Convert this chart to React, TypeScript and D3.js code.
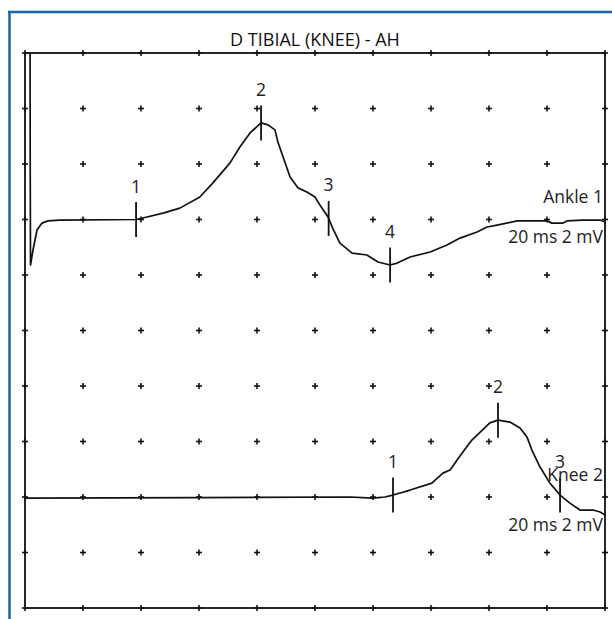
import React from "react";
import * as d3 from "d3";

// time in ms, amplitude in mV (relative to each trace baseline)
const ankleTime = [1.7, 1.8, 1.9, 2.76, 4.14, 5.86, 7.93, 12.07, 38.3, 42.1, 47.6, 53.4, 60.3, 64.8, 70.7, 74.1, 77.6, 81.4, 83.8, 86.2, 87.2, 89.0, 91.4, 94.1, 97.2, 100.0, 101.7, 104.5, 106.2, 108.6, 112.8, 117.9, 121.7, 125.9, 128.3, 132.8, 139.7, 145.5, 150.0, 155.9, 159.3, 162.8, 169.7, 180.0, 181.7, 185.5, 186.9, 192.1, 198.3, 200];
const ankleValue = [8.5, 2.0, -1.64, -1.10, -0.38, -0.13, -0.05, -0.02, 0, 0.09, 0.23, 0.41, 0.81, 1.32, 2.04, 2.61, 3.12, 3.48, 3.41, 3.23, 2.79, 2.25, 1.53, 1.14, 0.99, 0.81, 0.52, 0.09, -0.34, -0.85, -1.21, -1.28, -1.53, -1.64, -1.57, -1.35, -1.17, -0.92, -0.67, -0.45, -0.27, -0.20, -0.05, -0.05, -0.13, -0.13, -0.05, -0.02, -0.02, -0.09];

const kneeTime = [0, 60, 112.1, 120.0, 124.1, 126.9, 132.8, 140.3, 144.1, 146.6, 149.0, 151.0, 154.1, 155.9, 160.3, 163.1, 167.2, 170.7, 173.1, 174.8, 177.6, 181.0, 184.5, 187.9, 191.4, 195.9, 198.3, 200];
const kneeValue = [-0.04, -0.02, 0, -0.04, 0, 0.07, 0.25, 0.50, 0.86, 0.97, 1.33, 1.62, 2.05, 2.23, 2.67, 2.77, 2.70, 2.49, 2.16, 1.69, 1.08, 0.50, 0.07, -0.22, -0.47, -0.47, -0.54, -0.65];

const ankleMarkerLabels = ["1", "2", "3", "4"];
const ankleMarkerTimes = [38.3, 81.4, 104.7, 125.9];
const kneeMarkerLabels = ["1", "2", "3"];
const kneeMarkerTimes = [126.9, 163.1, 184.5];

const title = "D TIBIAL (KNEE) - AH";
const traceNames = ["Ankle 1", "Knee 2"];
const scaleTexts = ["20 ms 2 mV", "20 ms 2 mV"];

const timeSpan = [0, 200];
const msPerDiv = 20;
const mVPerDiv = 2;
const divisions = 10;
const baselineRows = [3, 8];

const W = 612;
const H = 619;
const left = 25;
const right = 605;
const top = 53;
const bottom = 608;
const FONT = "'Open Sans', 'Noto Sans', sans-serif";
const nameOffsets = [-17, -16];
const scaleOffsets = [23.5, 33.5];

function interp(times: number[], vals: number[], t: number) {
  const i = d3.bisectLeft(times, t);
  if (i <= 0) return vals[0];
  if (i >= times.length) return vals[vals.length - 1];
  const t0 = times[i - 1], t1 = times[i];
  const f = (t - t0) / (t1 - t0);
  return vals[i - 1] + f * (vals[i] - vals[i - 1]);
}

export default function App() {
  const x = d3.scaleLinear().domain(timeSpan).range([left, right]);
  const rowH = (bottom - top) / divisions;
  const makeY = (row: number) => {
    const topMv = row * mVPerDiv;
    return d3.scaleLinear().domain([topMv, topMv - divisions * mVPerDiv]).range([top, bottom]);
  };
  const yA = makeY(baselineRows[0]);
  const yK = makeY(baselineRows[1]);

  const gridX = d3.range(0, divisions + 1).map((i) => x(timeSpan[0] + i * msPerDiv));
  const gridY = d3.range(0, divisions + 1).map((j) => top + j * rowH);

  const line = (y: d3.ScaleLinear<number, number>) =>
    d3.line<[number, number]>().x((d) => x(d[0])).y((d) => y(d[1]));

  const ankleData = ankleTime.map((t, i) => [t, ankleValue[i]] as [number, number]);
  const kneeData = kneeTime.map((t, i) => [t, kneeValue[i]] as [number, number]);

  const traces = [
    { data: ankleData, y: yA, times: ankleTime, vals: ankleValue, mt: ankleMarkerTimes, ml: ankleMarkerLabels },
    { data: kneeData, y: yK, times: kneeTime, vals: kneeValue, mt: kneeMarkerTimes, ml: kneeMarkerLabels },
  ];

  const arm = 3;

  return (
    <svg width={W} height={H} style={{ position: "absolute", left: 0, top: 0, background: "#fff" }}>
      <defs>
        <clipPath id="plotclip">
          <rect x={left} y={top} width={right - left} height={bottom - top} />
        </clipPath>
      </defs>
      <rect x={0} y={0} width={W} height={H} fill="#fff" />
      {/* blue frame */}
      <line x1={9.5} y1={11} x2={9.5} y2={H} stroke="#1b64a3" strokeWidth={2.5} />
      <line x1={8} y1={12} x2={W} y2={12} stroke="#1b64a3" strokeWidth={2.5} />

      <text x={315} y={46} textAnchor="middle" fontFamily={FONT} fontSize={18} fill="#111">
        {title}
      </text>

      {/* grid crosses */}
      <g stroke="#111" strokeWidth={1.6}>
        {gridX.map((gx, i) =>
          gridY.map((gy, j) => (
            <g key={`c${i}-${j}`}>
              <line x1={gx - arm} x2={gx + arm} y1={gy} y2={gy} />
              <line x1={gx} x2={gx} y1={gy - arm} y2={gy + arm} />
            </g>
          ))
        )}
      </g>
      <rect x={left} y={top} width={right - left} height={bottom - top} fill="none" stroke="#111" strokeWidth={1.8} />

      {/* traces */}
      <g clipPath="url(#plotclip)">
        {traces.map((tr, k) => (
          <path key={`t${k}`} d={line(tr.y)(tr.data) || ""} fill="none" stroke="#111" strokeWidth={1.7} strokeLinejoin="round" />
        ))}
      </g>

      {/* markers */}
      {traces.map((tr, k) =>
        tr.mt.map((t, i) => {
          const mx = x(t);
          const my = tr.y(interp(tr.times, tr.vals, t));
          return (
            <g key={`m${k}-${i}`}>
              <line x1={mx} x2={mx} y1={my - 17.5} y2={my + 17.5} stroke="#111" strokeWidth={1.8} />
              <text x={mx} y={my - 27} textAnchor="middle" fontFamily={FONT} fontSize={17.5} fill="#222">
                {tr.ml[i]}
              </text>
            </g>
          );
        })
      )}

      {/* trace labels */}
      {traces.map((tr, k) => {
        const by = tr.y(0);
        return (
          <g key={`l${k}`}>
            <text x={603} y={by + nameOffsets[k]} textAnchor="end" fontFamily={FONT} fontSize={17.5} fill="#222">
              {traceNames[k]}
            </text>
            <text x={603} y={by + scaleOffsets[k]} textAnchor="end" fontFamily={FONT} fontSize={17.5} fill="#222">
              {scaleTexts[k]}
            </text>
          </g>
        );
      })}
    </svg>
  );
}
